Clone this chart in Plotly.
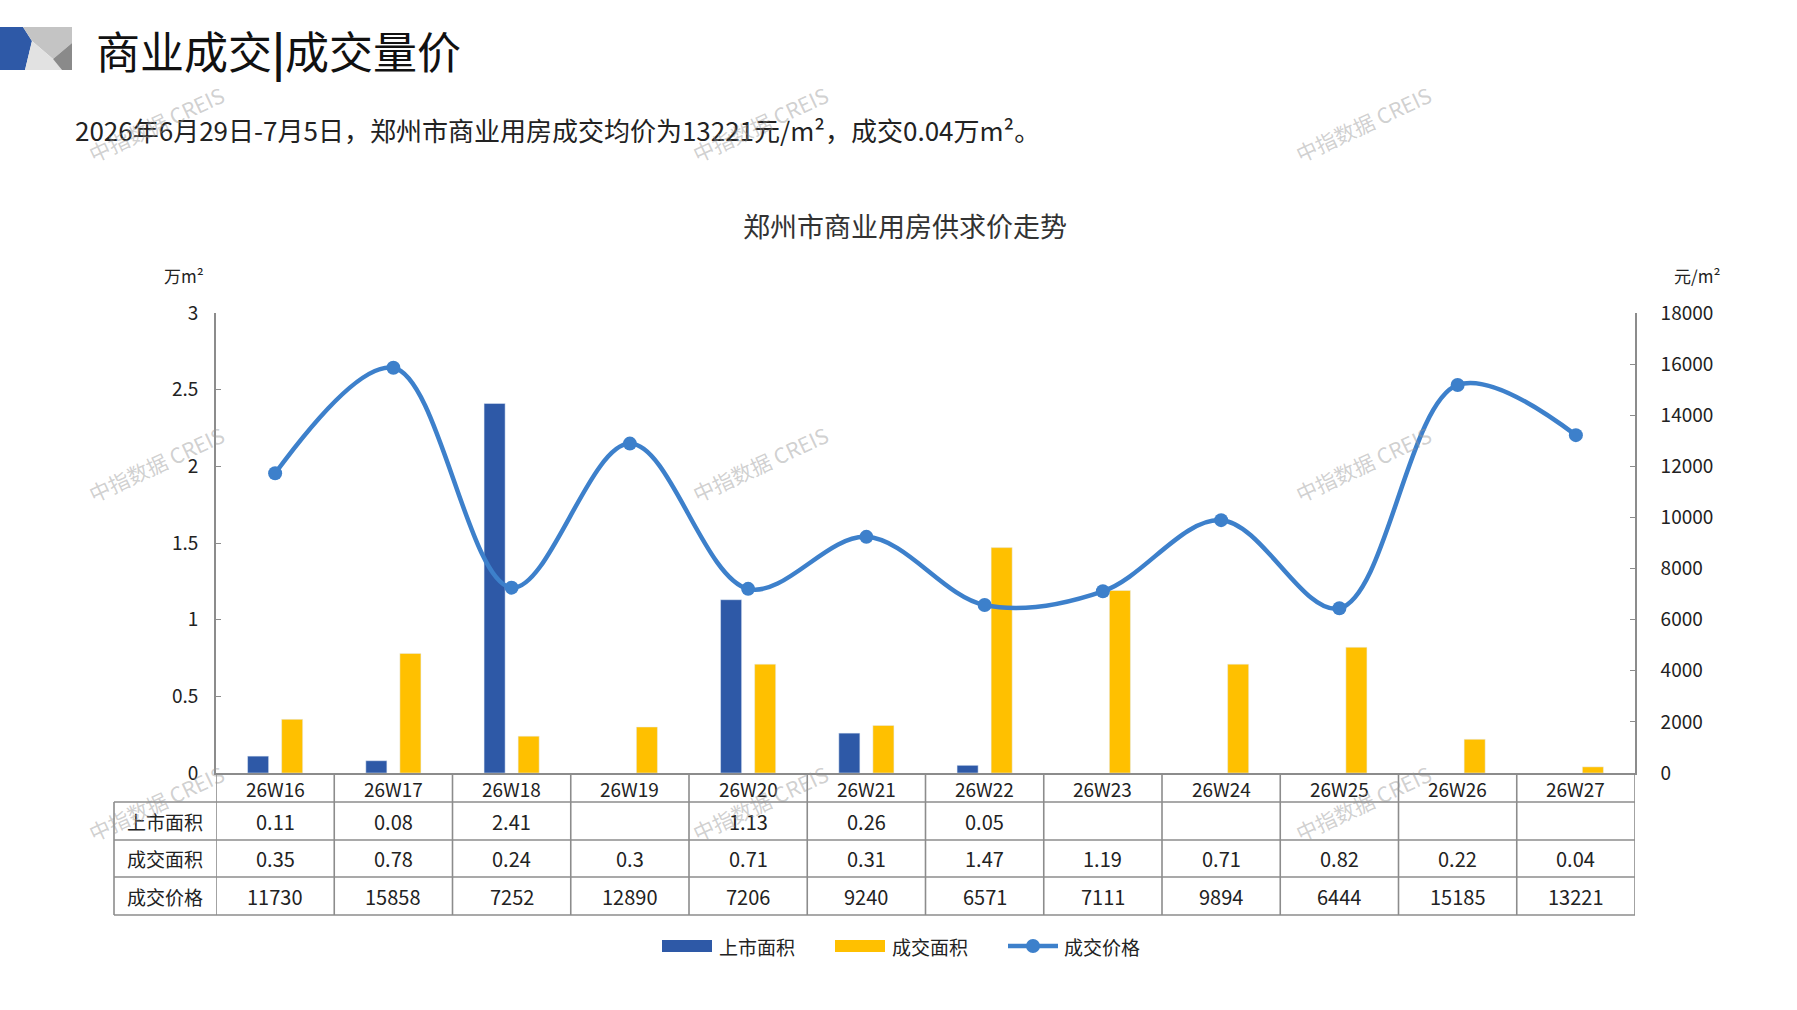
import plotly.graph_objects as go

# 数据
weeks = ["26W16", "26W17", "26W18", "26W19", "26W20", "26W21",
         "26W22", "26W23", "26W24", "26W25", "26W26", "26W27"]
supply = [0.11, 0.08, 2.41, None, 1.13, 0.26, 0.05, None, None, None, None, None]
deal_area = [0.35, 0.78, 0.24, 0.3, 0.71, 0.31, 1.47, 1.19, 0.71, 0.82, 0.22, 0.04]
deal_price = [11730, 15858, 7252, 12890, 7206, 9240, 6571, 7111, 9894, 6444, 15185, 13221]
row_names = ["上市面积", "成交面积", "成交价格"]

BLUE = "#2E59A7"
YELLOW = "#FFC000"
LINE = "#3D80CB"
GRID = "#8C8C8C"
FONT = "Noto Sans CJK SC"

W, H = 1797, 1010
L, R, T, B = 216, 1635, 313, 773   # plot area in pixels


def px(x):
    return (x - L) / (R - L)


def py(y):
    return (B - y) / (B - T)


def note(x, y, text, size, anchor="center", color="#222"):
    return dict(x=px(x), y=py(y), xref="paper", yref="paper", text=text, showarrow=False,
                xanchor=anchor, yanchor="middle", font=dict(size=size, color=color))


fig = go.Figure()
fig.add_trace(go.Bar(x=weeks, y=supply, name="上市面积", marker_color=BLUE))
fig.add_trace(go.Bar(x=weeks, y=deal_area, name="成交面积", marker_color=YELLOW))
fig.add_trace(go.Scatter(x=weeks, y=deal_price, name="成交价格", yaxis="y2",
                         mode="lines+markers", line=dict(color=LINE, width=4.5, shape="spline", smoothing=1),
                         marker=dict(size=14, color=LINE)))

shapes = []
annos = []

# 表格线
row_lines = [802, 840, 877, 915]
line_style = dict(color=GRID, width=1.6)
for k in range(len(weeks) + 1):
    shapes.append(dict(type="line", xref="x", yref="paper", x0=k - 0.5, x1=k - 0.5,
                       y0=py(B), y1=py(row_lines[-1]), line=line_style))
shapes.append(dict(type="line", xref="paper", yref="paper", x0=px(114), x1=px(114),
                   y0=py(row_lines[0]), y1=py(row_lines[-1]), line=line_style))
for yy in row_lines:
    shapes.append(dict(type="line", xref="paper", yref="paper", x0=px(114), x1=1,
                       y0=py(yy), y1=py(yy), line=line_style))

row_y = [821, 858.5, 896]
fmt = lambda v: "" if v is None else str(v)
rows = [[fmt(v) for v in supply], [fmt(v) for v in deal_area], [fmt(v) for v in deal_price]]
for i, w in enumerate(weeks):
    annos.append(dict(x=w, y=py(788), xref="x", yref="paper", text=w, showarrow=False,
                      yanchor="middle", font=dict(size=19, color="#222")))
    for r in range(3):
        annos.append(dict(x=w, y=py(row_y[r]), xref="x", yref="paper", text=rows[r][i],
                          showarrow=False, yanchor="middle", font=dict(size=20, color="#222")))
for r in range(3):
    annos.append(note(165, row_y[r], row_names[r], 19))

# 单位
annos.append(note(184, 275, "万m²", 17))
annos.append(note(1697, 275, "元/m²", 17))

# 标题
annos.append(note(94, 50, "商业成交<b>|</b>成交量价", 44, anchor="left", color="#111"))
annos.append(note(73, 130, "2026年6月29日-7月5日，郑州市商业用房成交均价为13221元/m²，成交0.04万m²。",
                  26, anchor="left"))
annos.append(note(905, 225, "郑州市商业用房供求价走势", 27, color="#333"))

# 图例
leg_y = 946
shapes.append(dict(type="rect", xref="paper", yref="paper", x0=px(662), x1=px(712),
                   y0=py(leg_y + 6), y1=py(leg_y - 6), fillcolor=BLUE, line_width=0))
shapes.append(dict(type="rect", xref="paper", yref="paper", x0=px(835), x1=px(885),
                   y0=py(leg_y + 6), y1=py(leg_y - 6), fillcolor=YELLOW, line_width=0))
shapes.append(dict(type="line", xref="paper", yref="paper", x0=px(1008), x1=px(1058),
                   y0=py(leg_y), y1=py(leg_y), line=dict(color=LINE, width=4.5)))
shapes.append(dict(type="circle", xref="paper", yref="paper", x0=px(1026), x1=px(1040),
                   y0=py(leg_y + 7), y1=py(leg_y - 7), fillcolor=LINE, line_width=0))
for xx, name in [(717, "上市面积"), (890, "成交面积"), (1062, "成交价格")]:
    annos.append(note(xx, leg_y, name, 19, anchor="left"))

# 标志
logo = [
    ([(0, 27), (23, 27), (32, 41), (25, 70), (0, 70)], "#2E59A7"),
    ([(23, 27), (72, 27), (72, 43), (53, 59), (32, 41)], "#C4C4C4"),
    ([(32, 41), (53, 59), (62, 70), (25, 70)], "#E2E2E2"),
    ([(53, 59), (72, 43), (72, 70), (62, 70)], "#8A8A8A"),
]
for pts, col in logo:
    path = "M " + " L ".join(f"{px(a):.5f} {py(b):.5f}" for a, b in pts) + " Z"
    shapes.append(dict(type="path", xref="paper", yref="paper", path=path,
                       fillcolor=col, line_width=0, layer="above"))

# 水印
for wx in [156, 760, 1363]:
    for wy in [124, 464, 803]:
        annos.append(dict(x=px(wx), y=py(wy), xref="paper", yref="paper", text="中指数据 CREIS",
                          textangle=-25, showarrow=False, xanchor="center", yanchor="middle",
                          font=dict(size=21, color="rgba(150,150,150,0.45)", family="Noto Sans CJK SC")))

fig.update_layout(
    width=W, height=H,
    margin=dict(l=L, r=W - R, t=T, b=H - B, pad=0),
    paper_bgcolor="white", plot_bgcolor="white",
    font=dict(family=FONT, color="#222"),
    barmode="group", bargap=0.424, bargroupgap=0.382,
    showlegend=False,
    xaxis=dict(type="category", range=[-0.5, 11.5], showticklabels=False, ticks="",
               showline=True, linecolor=GRID, linewidth=1.6, showgrid=False, zeroline=False),
    yaxis=dict(range=[0, 3], dtick=0.5, showgrid=False, zeroline=False, showline=True,
               linecolor=GRID, linewidth=1.6, ticks="inside", ticklen=5, tickcolor=GRID,
               tickfont=dict(size=19), ticklabelstandoff=12),
    yaxis2=dict(range=[0, 18000], dtick=2000, overlaying="y", side="right", showgrid=False,
                zeroline=False, showline=True, linecolor=GRID, linewidth=1.6, ticks="inside",
                ticklen=5, tickcolor=GRID, tickfont=dict(size=19), ticklabelstandoff=20,
                tickformat="d"),
    shapes=shapes, annotations=annos,
)

fig.write_html("out.html", config={"displayModeBar": False},
               post_script="document.body.style.margin='0';")
